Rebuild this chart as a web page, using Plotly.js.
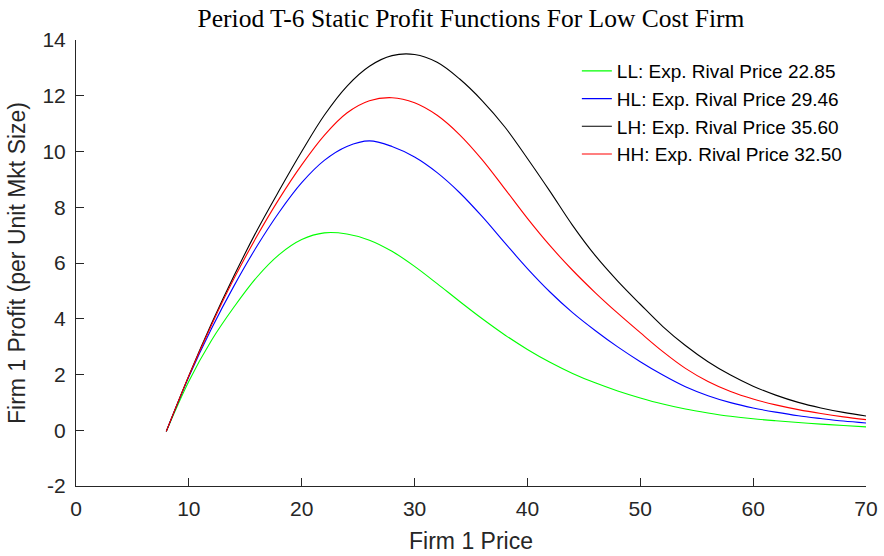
<!DOCTYPE html>
<html>
<head>
<meta charset="utf-8">
<script src="https://cdn.plot.ly/plotly-3.0.1.min.js"></script>
<style>html,body{margin:0;padding:0;background:#fff;}#chart{width:884px;height:556px;}</style>
</head>
<body>
<div id="chart"></div>
<script>
// Firm 1 price grid
var price = [8, 10, 12, 14, 16, 18, 20, 22, 24, 26, 28, 30, 32, 34, 36, 38, 40, 42, 44, 46, 48, 50, 52, 54, 56, 58, 60, 62, 64, 66, 68, 70];

// LL: Exp. Rival Price 22.85
var profitLL = [-0.04, 1.76, 3.22, 4.42, 5.48, 6.3, 6.84, 7.08, 7.04, 6.82, 6.42, 5.88, 5.26, 4.62, 4.0, 3.42, 2.9, 2.44, 2.04, 1.7, 1.41, 1.16, 0.94, 0.76, 0.62, 0.5, 0.41, 0.34, 0.28, 0.22, 0.17, 0.12];
// HL: Exp. Rival Price 29.46
var profitHL = [-0.04, 1.92, 3.64, 5.18, 6.58, 7.82, 8.88, 9.68, 10.18, 10.38, 10.18, 9.8, 9.24, 8.52, 7.66, 6.72, 5.8, 4.96, 4.22, 3.58, 2.99, 2.46, 1.98, 1.56, 1.24, 0.99, 0.8, 0.65, 0.52, 0.42, 0.33, 0.26];
// LH: Exp. Rival Price 35.60
var profitLH = [-0.04, 1.96, 3.82, 5.54, 7.14, 8.6, 10.0, 11.3, 12.34, 13.06, 13.44, 13.48, 13.2, 12.6, 11.82, 10.88, 9.75, 8.57, 7.35, 6.27, 5.35, 4.52, 3.72, 3.04, 2.46, 1.98, 1.58, 1.26, 1.0, 0.8, 0.64, 0.51];
// HH: Exp. Rival Price 32.50
var profitHH = [-0.04, 1.95, 3.77, 5.44, 6.94, 8.3, 9.52, 10.58, 11.38, 11.82, 11.93, 11.75, 11.3, 10.6, 9.7, 8.66, 7.6, 6.62, 5.74, 4.94, 4.2, 3.5, 2.82, 2.22, 1.75, 1.39, 1.12, 0.91, 0.74, 0.6, 0.48, 0.38];

var seriesNames = ['LL: Exp. Rival Price 22.85', 'HL: Exp. Rival Price 29.46', 'LH: Exp. Rival Price 35.60', 'HH: Exp. Rival Price 32.50'];
var seriesData = [profitLL, profitHL, profitLH, profitHH];
var seriesColors = ['#00ff00', '#0000ff', '#000000', '#ff0000'];

var xTicks = [0, 10, 20, 30, 40, 50, 60, 70];
var yTicks = [-2, 0, 2, 4, 6, 8, 10, 12, 14];

var traces = seriesData.map(function (d, i) {
  return {
    x: price, y: d, type: 'scatter', mode: 'lines', name: seriesNames[i],
    line: {color: seriesColors[i], width: 1.1, shape: 'spline', smoothing: 1}
  };
});

var axisColor = '#262626';
var layout = {
  width: 884, height: 556,
  margin: {l: 76, r: 18, t: 40, b: 70},
  paper_bgcolor: '#fff', plot_bgcolor: '#fff',
  font: {family: 'Liberation Sans, Arial, sans-serif', color: axisColor},
  title: {
    text: 'Period T-6 Static Profit Functions For Low Cost Firm',
    font: {family: 'Liberation Serif, Times New Roman, serif', size: 25.5, color: '#000'},
    xref: 'paper', x: 0.5, xanchor: 'center', y: 0.967, yanchor: 'middle'
  },
  xaxis: {
    range: [0, 70], tickvals: xTicks, ticktext: xTicks.map(String),
    ticks: 'inside', ticklen: 8, tickcolor: axisColor, tickwidth: 1,
    showline: true, linecolor: axisColor, linewidth: 1, mirror: false,
    showgrid: false, zeroline: false, ticklabelstandoff: 4,
    tickfont: {size: 21, color: axisColor},
    title: {text: 'Firm 1 Price', font: {size: 23, color: axisColor}, standoff: 13}
  },
  yaxis: {
    range: [-2, 14], tickvals: yTicks, ticktext: yTicks.map(String),
    ticks: 'inside', ticklen: 8, tickcolor: axisColor, tickwidth: 1,
    showline: true, linecolor: axisColor, linewidth: 1, mirror: false,
    showgrid: false, zeroline: false, ticklabelstandoff: 5,
    tickfont: {size: 21, color: axisColor},
    title: {text: 'Firm 1 Profit (per Unit Mkt Size)', font: {size: 23, color: axisColor}, standoff: 10}
  },
  legend: {
    x: 0.634, y: 0.973, xanchor: 'left', yanchor: 'top',
    bgcolor: 'rgba(255,255,255,0)', borderwidth: 0,
    font: {size: 19, color: '#000'}, tracegroupgap: 0
  },
  showlegend: true
};

Plotly.newPlot('chart', traces, layout, {displayModeBar: false, staticPlot: true});
</script>
</body>
</html>
